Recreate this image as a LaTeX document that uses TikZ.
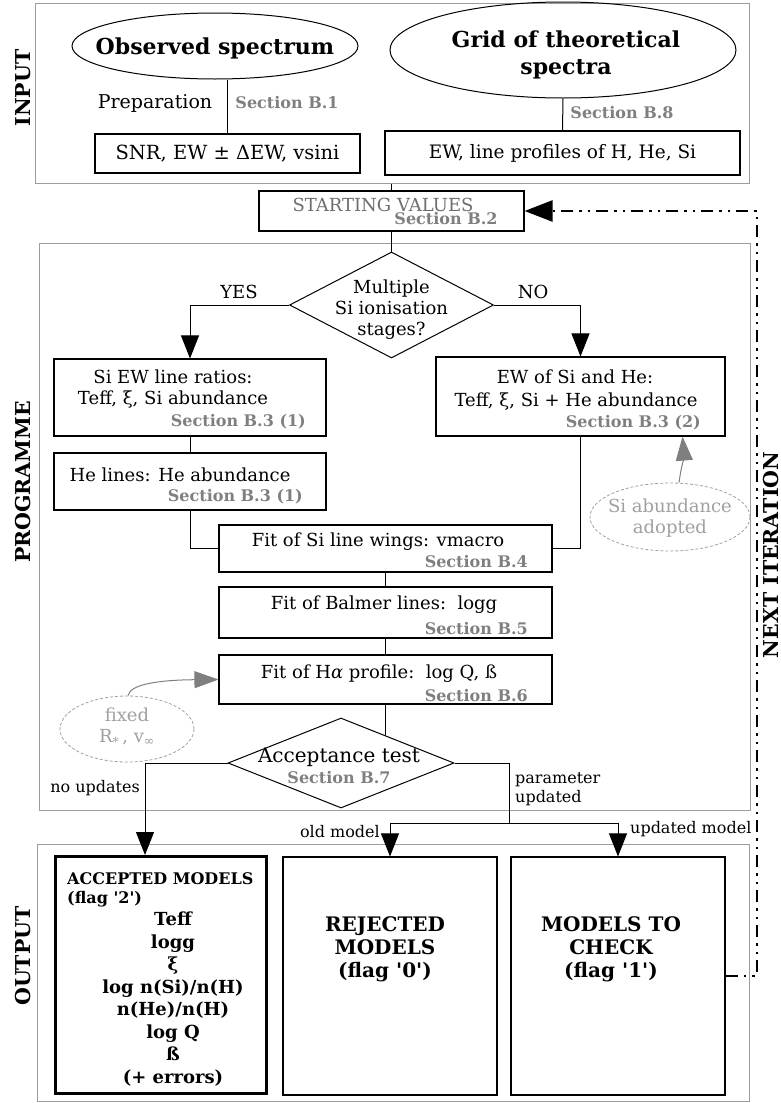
\documentclass[tikz,border=0pt]{standalone}
\usepackage{fontspec}
\setmainfont{DejaVu Serif}
\usetikzlibrary{arrows.meta,shapes.geometric,calc}
\definecolor{secgray}{HTML}{7F7F7F}
\definecolor{svgray}{HTML}{6E6E6E}
\definecolor{framegray}{HTML}{9C9C9C}
\definecolor{notegray}{HTML}{A0A0A0}
\newcommand\fsz[2]{\fontsize{#1}{#2}\selectfont}
\tikzset{
  frame/.style={draw=framegray, line width=1pt, rectangle, inner sep=0pt},
  box/.style={draw=black, line width=1.1pt, rectangle, inner sep=0pt},
  txt/.style={inner sep=0pt, font=\fsz{18}{21}},
  small/.style={inner sep=0pt, font=\fsz{16}{19}},
  title/.style={inner sep=0pt, font=\bfseries\fsz{22}{27}},
  sec/.style={inner sep=0pt, text=secgray, font=\bfseries\fsz{16}{19}},
  side/.style={inner sep=0pt, rotate=90, font=\bfseries\fsz{20.5}{24}},
  outbig/.style={inner sep=0pt, align=center, font=\bfseries\fsz{20}{23}},
  conn/.style={draw=black, line width=1pt},
  arr/.style={conn, -{Triangle[length=23pt,width=18pt]}},
  note/.style={ellipse, draw=notegray, line width=0.8pt, dash pattern=on 3pt off 2pt, inner sep=0pt},
  notetxt/.style={inner sep=0pt, text=notegray, align=center, font=\fsz{18}{21}},
  grayarr/.style={draw=secgray, line width=1pt, -{Triangle[length=24pt,width=17pt]}},
  feedback/.style={draw=black, line width=2.5pt, dash pattern=on 12pt off 6pt on 2.5pt off 6pt on 2.5pt off 6pt, -{Triangle[length=28pt,width=21pt]}},
  sdiamond/.style={diamond, draw=black, line width=1pt, inner sep=0pt},
}
\begin{document}
\begin{tikzpicture}[x=1pt,y=-1pt]
\useasboundingbox (0,0) rectangle (780,1103);

% ---------- frames ----------
\node[frame, minimum width=714pt, minimum height=180pt] (inframe) at (392,93) {};
\node[frame, minimum width=711pt, minimum height=567pt] (progframe) at (394.5,526.5) {};
\node[frame, minimum width=712pt, minimum height=257pt] (outframe) at (393,972.5) {};

\node[side] (lin) at (23.5,88) {INPUT};
\node[side] (lprog) at (23.5,482) {PROGRAMME};
\node[side] (lout) at (23.5,956) {OUTPUT};
\node[side] (lnext) at (771,555) {NEXT ITERATION};

% ---------- input ----------
\node[ellipse, draw=black, line width=1pt, minimum width=286pt, minimum height=66pt, inner sep=0pt] (obs) at (215,46) {};
\node[title] (obst) at (215,48) {Observed spectrum};
\node[ellipse, draw=black, line width=1pt, minimum width=346pt, minimum height=96pt, inner sep=0pt] (grid) at (563,50) {};
\node[title, align=center] (gridt) at (566,55) {Grid of theoretical\\spectra};

\node[box, minimum width=265pt, minimum height=39pt, font=\fsz{19.5}{22}] (snr) at (227.5,153.5) {SNR, EW ± ΔEW, vsini};
\node[box, minimum width=355pt, minimum height=44pt, font=\fsz{18.5}{21}] (ew) at (562.5,153) {EW, line profiles of H, He, Si};
\node[txt, font=\fsz{19}{22}] (prep) at (155,103) {Preparation};
\node[sec] (s1) at (287,103) {Section B.1};
\node[sec] (s8) at (622,113) {Section B.8};
\draw[conn] (snr.north |- obs.south) -- (snr.north);
\draw[conn] (grid.south) -- (ew.north);

% ---------- starting values ----------
\node[box, minimum width=265pt, minimum height=40pt] (sv) at (391.5,211) {};
\node[txt, text=svgray] (svt) at (383,205) {STARTING VALUES};
\node[sec] (s2) at (446,219) {Section B.2};
\draw[conn] (sv.north |- inframe.south) -- (sv.north);

% ---------- programme ----------
\node[sdiamond, minimum width=204pt, minimum height=106pt] (d1) at (391.5,305) {};
\node[txt, align=center] (d1t) at (391.5,310) {Multiple\\Si ionisation\\stages?};
\draw[conn] (sv.south) -- (d1.north);
\node[txt] (yes) at (239,292) {YES};
\node[txt] (no) at (533,292) {NO};

\node[box, minimum width=272pt, minimum height=77pt] (siew) at (190,397.5) {};
\node[txt] (siewa) at (173,377) {Si EW line ratios:};
\node[txt] (siewb) at (173,400) {Teff, ξ, Si abundance};
\node[sec, anchor=east] (s31a) at (306,422) {Section B.3 (1)};

\node[box, minimum width=289pt, minimum height=79pt] (ewsihe) at (580.5,396.5) {};
\node[txt] (ewsihea) at (575,377) {EW of Si and He:};
\node[txt] (ewsiheb) at (576,402) {Teff, ξ, Si + He abundance};
\node[sec, anchor=east] (s32) at (701,423) {Section B.3 (2)};

\draw[arr] (d1.west) -| (siew.north);
\draw[arr] (d1.east) -| (ewsihe.north);

\node[box, minimum width=272pt, minimum height=57pt] (he) at (190,481.5) {};
\node[txt] (het) at (180,475) {He lines: He abundance};
\node[sec, anchor=east] (s31b) at (303,497) {Section B.3 (1)};
\draw[conn] (siew.south) -- (he.north);

\node[note, minimum width=160pt, minimum height=68pt] (siab) at (670,517) {};
\node[notetxt] (siabt) at (670,518) {Si abundance\\adopted};
\draw[grayarr] ([xshift=9pt]siab.north) .. controls (681,468) and (684,456) .. ([xshift=102pt]ewsihe.south);

\node[box, minimum width=333pt, minimum height=47pt] (fitsi) at (385.5,548.5) {};
\node[txt] (fitsit) at (378,542) {Fit of Si line wings: vmacro};
\node[sec, anchor=east] (s4) at (528,562) {Section B.4};
\draw[conn] (he.south) |- (fitsi.west);
\draw[conn] (ewsihe.south) |- (fitsi.east);

\node[box, minimum width=333pt, minimum height=51pt] (balmer) at (385.5,612.5) {};
\node[txt] (balmert) at (384,605) {Fit of Balmer lines:\ \ logg};
\node[sec, anchor=east] (s5) at (528,629) {Section B.5};
\draw[conn] (fitsi.south) -- (balmer.north);

\node[box, minimum width=333pt, minimum height=49pt] (ha) at (385.5,679.5) {};
\node[txt] (hat) at (379,674) {Fit of H\textit{α} profile:\ \ log Q, ß};
\node[sec, anchor=east] (s6) at (528,696) {Section B.6};
\draw[conn] (balmer.south) -- (ha.north);

\node[note, minimum width=134pt, minimum height=66pt] (fix) at (127,729) {};
\node[notetxt] (fixt) at (127,727) {fixed\\R\textsubscript{*}\,, v\textsubscript{∞}};
\draw[grayarr] ([xshift=1pt]fix.north) .. controls (130,684) and (160,680) .. (ha.west);

\node[sdiamond, minimum width=226pt, minimum height=90pt] (d2) at (341,763) {};
\node[inner sep=0pt, font=\fsz{20}{23}] (d2t) at (339,757) {Acceptance test};
\node[sec] (s7) at (339,778) {Section B.7};
\coordinate (hahit) at ($(d2.north)!0.3938!(d2.east)$);
\draw[conn] (ha.south) -- (ha.south |- hahit);

\node[small] (noup) at (95,788) {no updates};
\node[small, align=left, anchor=west] (parup) at (515,789) {parameter\\updated};

% ---------- output ----------
\node[box, line width=3pt, minimum width=211pt, minimum height=237pt] (acc) at (161,975) {};
\node[inner sep=0pt, align=left, anchor=west, font=\bfseries\fsz{16}{19}] (acct) at (67,890) {ACCEPTED MODELS\\(flag \textquotesingle 2\textquotesingle)};
\node[inner sep=0pt, align=center, font=\bfseries\fsz{18}{22.5}] (accl) at (173,999) {Teff\\logg\\ξ\\log n(Si)/n(H)\\n(He)/n(H)\\log Q\\ß\\(+ errors)};

\node[box, minimum width=214pt, minimum height=238pt] (rej) at (390,976) {};
\node[outbig] (rejt) at (385,949) {REJECTED\\MODELS\\(flag \textquotesingle 0\textquotesingle)};

\node[box, minimum width=214pt, minimum height=238pt] (chk) at (618,976) {};
\node[outbig] (chkt) at (611,949) {MODELS TO\\CHECK\\(flag \textquotesingle 1\textquotesingle)};

\coordinate (split) at (509,823);
\draw[arr] (d2.west) -| ([xshift=-16pt]acc.north);
\draw[conn] (d2.east) -| (split);
\draw[arr] (split) -| (rej.north);
\draw[arr] (split) -| (chk.north);
\node[small, anchor=east] (oldm) at (380,832) {old model};
\node[small, anchor=west] (updm) at (630,829) {updated model};

% ---------- feedback loop ----------
\coordinate (fbcorner) at (757,211);
\draw[feedback] (chk.east) -| (fbcorner) -- (sv.east);
\end{tikzpicture}
\end{document}
